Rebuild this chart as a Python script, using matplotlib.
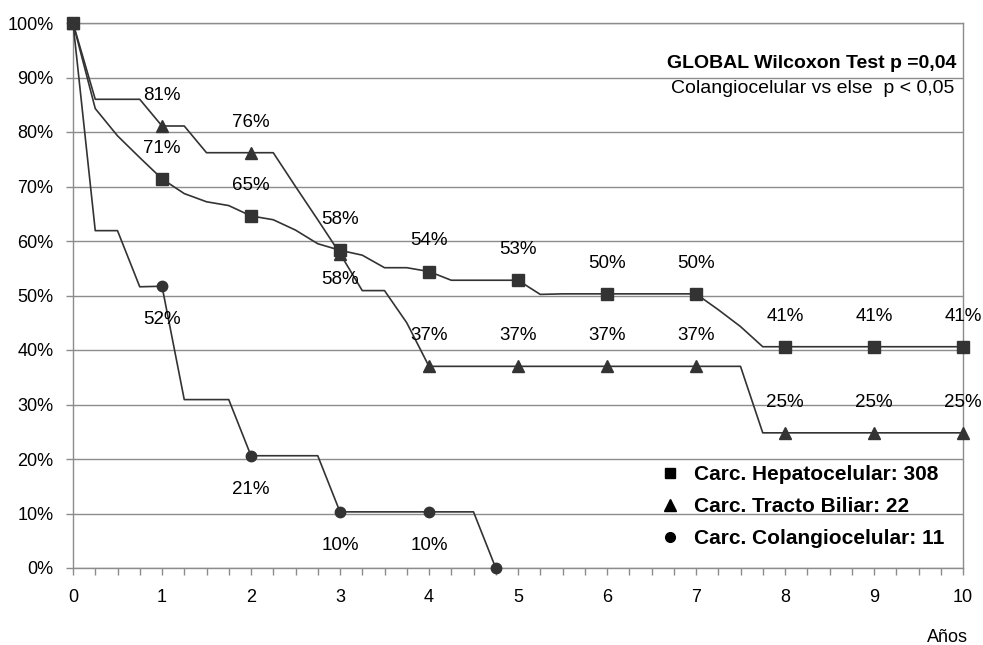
import numpy as np
import matplotlib
matplotlib.use("Agg")
import matplotlib.pyplot as plt
from matplotlib.lines import Line2D

plt.rcParams['font.family'] = ['Liberation Sans', 'DejaVu Sans']

# survival (%) every quarter of a year
years = np.arange(0, 10.01, 0.25)

hepato = [100, 84.3, 79.3, 75.3, 71.4, 68.7, 67.2, 66.5, 64.6, 63.9, 62.0, 59.5,
          58.3, 57.4, 55.1, 55.1, 54.4, 52.8, 52.8, 52.8, 52.8, 50.2,
          50.3, 50.3, 50.3, 50.3, 50.3, 50.3, 50.3, 47.4, 44.3, 40.6,
          40.6, 40.6, 40.6, 40.6, 40.6, 40.6, 40.6, 40.6, 40.6]
tracto = [100, 86, 86, 86, 81.1, 81.1, 76.2, 76.2, 76.2, 76.2, 70.0, 63.9,
          57.7, 50.9, 50.9, 45.0,
          37.0, 37.0, 37.0, 37.0, 37.0, 37.0, 37.0, 37.0, 37.0, 37.0, 37.0, 37.0, 37.0, 37.0, 37.0,
          24.8, 24.8, 24.8, 24.8, 24.8, 24.8, 24.8, 24.8, 24.8, 24.8]
colangio = [100, 61.9, 61.9, 51.6, 51.7, 30.9, 30.9, 30.9, 20.6, 20.6, 20.6, 20.6,
            10.3, 10.3, 10.3, 10.3, 10.3, 10.3, 10.3, 0] + [np.nan] * 21

labels = ['Carc. Hepatocelular: 308', 'Carc. Tracto Biliar: 22', 'Carc. Colangiocelular: 11']

line_col = '#333333'
grid_col = '#8c8c8c'

fig = plt.figure(figsize=(9.83, 6.45), dpi=100)
ax = fig.add_axes([73 / 983, 1 - 568 / 645, 890 / 983, 545 / 645])

# (values, marker, size, label offset above, years whose label goes below, offset below)
series = [
    (hepato, 's', 8, 22, [], 0),
    (tracto, '^', 8.5, 22, [3], 19),
    (colangio, 'o', 7.5, 22, [1, 2, 3, 4], 24),
]

for vals, mk, ms, up, below, down in series:
    vals = np.array(vals, dtype=float)
    ax.plot(years, vals, color=line_col, lw=1.2, zorder=3)
    # markers on whole years (plus the last point of a series that ends early)
    idx = [i for i in range(len(vals)) if not np.isnan(vals[i]) and (i % 4 == 0)]
    last = np.where(~np.isnan(vals))[0][-1]
    if last not in idx:
        idx.append(last)
    ax.plot(years[idx], vals[idx], linestyle='none', marker=mk, markersize=ms,
            color=line_col, zorder=4, clip_on=False)
    # percentage labels at years 1..10
    for i in idx:
        if years[i] == 0 or years[i] % 1 != 0:
            continue
        dy = -down if int(years[i]) in below else up
        ax.annotate('%d%%' % int(round(vals[i])), (years[i], vals[i]),
                    xytext=(0, dy), textcoords='offset points',
                    ha='center', va='center', fontsize=13.5, color='black', zorder=5)

ax.set_xlim(0, 10)
ax.set_ylim(0, 100)
ax.set_xticks(range(0, 11))
ax.set_xticks(np.arange(0, 10.01, 0.25), minor=True)
ax.set_yticks(range(0, 101, 10))
ax.set_yticklabels(['%d%%' % v for v in range(0, 101, 10)])
ax.tick_params(axis='both', labelsize=13, colors=grid_col, labelcolor='black', length=5, width=1)
ax.tick_params(axis='x', which='minor', length=5, width=1, colors=grid_col)
ax.tick_params(axis='x', pad=10)
ax.tick_params(axis='y', pad=9)
ax.grid(axis='y', color=grid_col, lw=1)
ax.set_axisbelow(True)
for s in ax.spines.values():
    s.set_color(grid_col)
    s.set_linewidth(1)

fig.text(947 / 983, 1 - 638 / 645, 'Años', ha='center', va='center', fontsize=13)

ax.text(0.993, 0.925, 'GLOBAL Wilcoxon Test p =0,04', transform=ax.transAxes,
        ha='right', va='center', fontsize=14, fontweight='bold')
ax.text(0.99, 0.879, 'Colangiocelular vs else  p < 0,05', transform=ax.transAxes,
        ha='right', va='center', fontsize=14)

handles = [Line2D([], [], linestyle='none', marker=m, markersize=z, color='black')
           for m, z in [('s', 7), ('^', 8), ('o', 7)]]
ax.legend(handles, labels, loc='upper left', bbox_to_anchor=((657 - 73) / 890, (568 - 465) / 545),
          frameon=False, borderpad=0, borderaxespad=0,
          prop={'size': 15, 'weight': 'bold'}, handletextpad=0.6, labelspacing=0.62,
          handlelength=1.2)

fig.savefig('out.png', dpi=100)
